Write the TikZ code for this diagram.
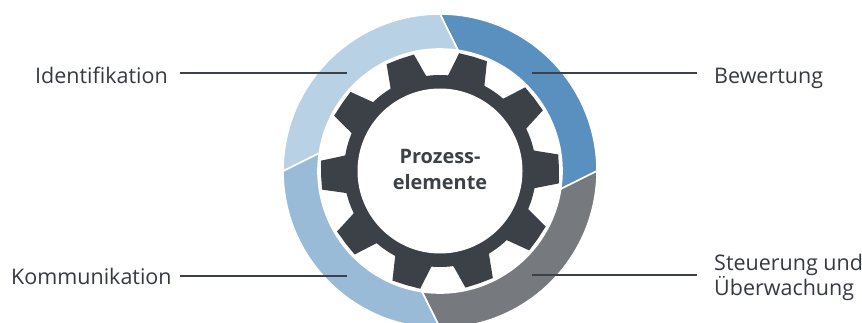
\documentclass[tikz,border=0pt]{standalone}
\usepackage{fontspec}
\setmainfont{Open Sans}
\definecolor{cBew}{HTML}{5A90BF}
\definecolor{cSte}{HTML}{76797E}
\definecolor{cKom}{HTML}{9ABBD8}
\definecolor{cIde}{HTML}{B9D1E5}
\definecolor{cGear}{HTML}{3C4047}
\tikzset{
  x=1pt,y=1pt,
  segment/.style={draw=white,line width=1.6pt,line join=miter},
  leader/.style={draw=cGear,line width=1.1pt},
  lab/.style={inner sep=0pt,font=\fontsize{21.5}{24.5}\selectfont,text=cGear!90!black},
  hub/.style={inner sep=0pt,align=center,font=\fontsize{19.9}{26}\selectfont\bfseries,text=cGear}
}
\newcommand{\ringseg}[2]{%
  \fill[#2,segment] (#1:157) arc[start angle=#1,end angle=#1-90,radius=157]
    -- (#1-98.5:122) arc[start angle=#1-98.5,end angle=#1-8.5,radius=122] -- cycle;}
\begin{document}
\begin{tikzpicture}
\useasboundingbox (0,0) rectangle (862,322);
\clip (0,0) rectangle (862,322);
\begin{scope}[shift={(440,151)}]
  \ringseg{90}{cBew}
  \ringseg{0}{cSte}
  \ringseg{-90}{cKom}
  \ringseg{180}{cIde}
  \fill[cGear] (0,0) circle[radius=96];
  \foreach \a in {1,37.5,73.8,109.6,145.5,182,217.4,253.5,289.3,325.3}{
    \fill[cGear,rotate=\a] (90,-20) -- (96,-18.5) -- (118.5,-14.5) -- (119,0) -- (118.5,14.5) -- (96,18.5) -- (90,20) -- cycle;
  }
  \fill[white] (0,0) circle[radius=82.5];
\end{scope}
\node[hub,anchor=center] (hubtext) at (440,153) {Prozess-\\elemente};
\coordinate (ringIde) at (347,249);
\coordinate (ringBew) at (532,249);
\coordinate (ringKom) at (347,46);
\coordinate (ringSte) at (532,47);
\coordinate (endIde) at (180,249);
\coordinate (endBew) at (697,249);
\coordinate (endKom) at (180,46);
\coordinate (endSte) at (697,47);
\node[lab,anchor=base west] (ide) at (35,239) {Identifikation};
\node[lab,anchor=base west] (bew) at (714,239) {Bewertung};
\node[lab,anchor=base west] (kom) at (11,38) {Kommunikation};
\node[lab,anchor=north west,align=left] (ste) at (714,68) {Steuerung und\\Überwachung};
\draw[leader] (ringIde) -- (endIde);
\draw[leader] (ringBew) -- (endBew);
\draw[leader] (ringKom) -- (endKom);
\draw[leader] (ringSte) -- (endSte);
\end{tikzpicture}
\end{document}
